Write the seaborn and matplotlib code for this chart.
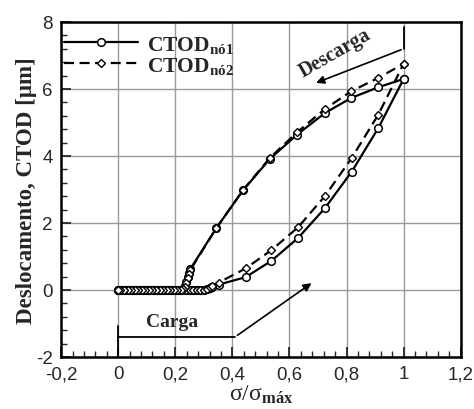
import matplotlib
matplotlib.use("Agg")
from matplotlib import pyplot as plt
from matplotlib.ticker import MultipleLocator, FuncFormatter
import pandas as pd
import seaborn as sns

# carregamento (sigma / sigma_max) e CTOD dos dois nós
load_sigma = [0.0, 0.0125, 0.025, 0.0375, 0.05, 0.0625, 0.075, 0.0875, 0.1, 0.1125,
              0.125, 0.1375, 0.15, 0.1625, 0.175, 0.1875, 0.2, 0.2125, 0.225, 0.2375,
              0.25, 0.2625, 0.275, 0.2875, 0.3, 0.31, 0.32, 0.33, 0.352, 0.446,
              0.537, 0.63, 0.724, 0.818, 0.911, 1.0]
load_n1 = [0.0] * 25 + [0.02, 0.06, 0.1, 0.16, 0.38, 0.87, 1.55, 2.44, 3.53, 4.83, 6.3]
load_n2 = [0.0] * 25 + [0.03, 0.08, 0.12, 0.22, 0.64, 1.19, 1.87, 2.8, 3.94, 5.23, 6.75]

# descarregamento
unload_sigma = [1.0, 0.911, 0.816, 0.724, 0.627, 0.531, 0.437, 0.344, 0.253, 0.248,
                0.243, 0.238, 0.233, 0.228, 0.22, 0.2075, 0.195, 0.1825, 0.17, 0.1575,
                0.145, 0.1325, 0.12, 0.1075, 0.095, 0.0825, 0.07, 0.0575, 0.045, 0.0325,
                0.02, 0.0075, 0.0]
unload_n1 = [6.3, 6.05, 5.73, 5.28, 4.64, 3.91, 2.97, 1.85, 0.63, 0.5,
             0.38, 0.25, 0.12, 0.03] + [0.0] * 19
unload_n2 = [6.75, 6.33, 5.93, 5.40, 4.71, 3.94, 2.98, 1.85, 0.6, 0.47,
             0.35, 0.22, 0.1, 0.02] + [0.0] * 19

x_ticks = [-0.2, 0, 0.2, 0.4, 0.6, 0.8, 1.0, 1.2]
y_ticks = [-2, 0, 2, 4, 6, 8]

sns.set_style("ticks", {
    'axes.edgecolor': 'black',
    'axes.grid': True,
    'grid.color': '#9a9a9a',
    'grid.linestyle': '-',
    'xtick.direction': 'in',
    'ytick.direction': 'in',
})
plt.rcParams['font.family'] = ['Liberation Sans', 'DejaVu Sans']
plt.rcParams['mathtext.fontset'] = 'custom'
plt.rcParams['mathtext.rm'] = 'Liberation Serif'
plt.rcParams['mathtext.bf'] = 'Liberation Serif:bold'
plt.rcParams['mathtext.it'] = 'Liberation Serif:italic'

sigma = load_sigma + unload_sigma
frame = pd.DataFrame({
    'sigma': sigma + sigma,
    'ctod': load_n1 + unload_n1 + load_n2 + unload_n2,
    'no': ['n1'] * len(sigma) + ['n2'] * len(sigma),
})

fig = plt.figure(figsize=(4.74, 4.10), dpi=100)
ax = fig.add_axes([0.129, 0.127, 0.843, 0.817])

serif_bold = {'family': 'Liberation Serif', 'weight': 'bold'}

sns.lineplot(data=frame[frame['no'] == 'n1'], x='sigma', y='ctod', sort=False,
             estimator=None, color='black', lw=1.6, marker='o', markersize=5.5,
             markerfacecolor='white', markeredgecolor='black', markeredgewidth=1.1,
             label='CTOD$_{\\mathbf{nó1}}$', ax=ax)
sns.lineplot(data=frame[frame['no'] == 'n2'], x='sigma', y='ctod', sort=False,
             estimator=None, color='black', lw=1.6, linestyle=(0, (4.5, 2.5)),
             marker='D', markersize=3.8, markerfacecolor='white',
             markeredgecolor='black', markeredgewidth=1.0,
             label='CTOD$_{\\mathbf{nó2}}$', ax=ax)

ax.set_xlim(-0.2, 1.2)
ax.set_ylim(-2, 8)
ax.set_xticks(x_ticks)
ax.set_yticks(y_ticks)
ax.xaxis.set_minor_locator(MultipleLocator(0.04))
ax.yaxis.set_minor_locator(MultipleLocator(0.4))
fmt = FuncFormatter(lambda v, p: f"{v:g}".replace('.', ','))
ax.xaxis.set_major_formatter(fmt)
ax.yaxis.set_major_formatter(fmt)
ax.tick_params(which='major', length=7, width=1.3, labelsize=13.5, top=False, right=False, pad=6)
ax.tick_params(which='minor', length=4, width=1.0, top=False, right=False)
for s in ax.spines.values():
    s.set_linewidth(1.8)
ax.grid(True, which='major', color='#9a9a9a', lw=1.0)

ax.set_xlabel('σ/σ$_{\\mathbf{máx}}$', fontsize=17, family='Liberation Serif', labelpad=0)
ax.set_ylabel('Deslocamento, CTOD [μm]', fontsize=16.5, labelpad=-1, **serif_bold)

leg = ax.legend(loc='upper left', bbox_to_anchor=(0.0, 0.975), frameon=False,
                handlelength=3.4, numpoints=1,
                prop={'family': 'Liberation Serif', 'weight': 'bold', 'size': 15.5},
                borderaxespad=0.05, borderpad=0.1, labelspacing=0.0, handletextpad=0.45)

# setas de carga / descarga
ax.plot([0, 0], [-2, -1.07], color='black', lw=1.3)
ax.annotate('', xy=(0.685, 0.25), xytext=(0.41, -1.4),
            arrowprops=dict(arrowstyle='-|>', color='black', lw=1.2, mutation_scale=12))
ax.plot([0, 0.41], [-1.4, -1.4], color='black', lw=1.3)
ax.text(0.19, -0.95, 'Carga', ha='center', va='center', fontsize=14, **serif_bold)

ax.plot([1.0, 1.0], [7.85, 7.2], color='black', lw=1.3)
ax.annotate('', xy=(0.684, 6.15), xytext=(1.0, 7.2),
            arrowprops=dict(arrowstyle='-|>', color='black', lw=1.2, mutation_scale=12))
ax.text(0.758, 7.1, 'Descarga', ha='center', va='center', fontsize=14.5,
        rotation=30, **serif_bold)

fig.savefig('out.png', dpi=100)
